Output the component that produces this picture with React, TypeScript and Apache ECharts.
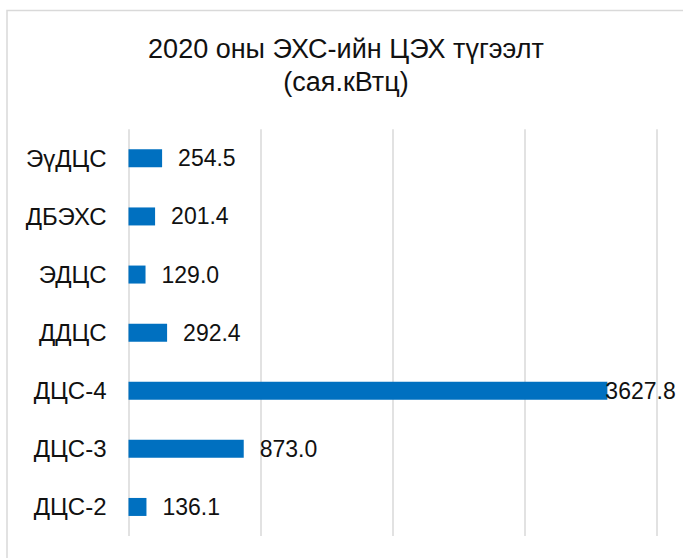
import React, { useEffect, useRef } from "react";
import * as echarts from "echarts";

const titleLines = ["2020 оны ЭХС-ийн ЦЭХ түгээлт", "(сая.кВтц)"];
const categories = ["ЭүДЦС", "ДБЭХС", "ЭДЦС", "ДДЦС", "ДЦС-4", "ДЦС-3", "ДЦС-2"];
const values = [254.5, 201.4, 129.0, 292.4, 3627.8, 873.0, 136.1];
const axisMin = 0;
const axisMax = 4000;
const axisInterval = 1000;

const FONT = "'Liberation Sans', Arial, sans-serif";

export default function App() {
  const ref = useRef<HTMLDivElement>(null);

  useEffect(() => {
    document.body.style.margin = "0";
    if (!ref.current) return;
    const chart = echarts.init(ref.current, null, { renderer: "svg" });
    const maxVal = Math.max(...values);
    chart.setOption({
      animation: false,
      backgroundColor: "#ffffff",
      title: {
        text: titleLines.join("\n"),
        left: 346,
        top: 32,
        textAlign: "center",
        padding: 0,
        textStyle: {
          fontFamily: FONT,
          fontSize: 27,
          lineHeight: 33,
          fontWeight: "normal",
          color: "#111111",
        },
      },
      graphic: [
        {
          type: "rect",
          silent: true,
          shape: { x: 7, y: 10.5, width: 1000, height: 1000 },
          style: { fill: "none", stroke: "#d9d9d9", lineWidth: 1.5 },
        },
      ],
      grid: {
        left: 128.5,
        right: 26.5,
        top: 129.3,
        bottom: 22,
        containLabel: false,
      },
      xAxis: {
        type: "value",
        min: axisMin,
        max: axisMax,
        interval: axisInterval,
        axisLabel: { show: false },
        axisLine: { show: false },
        axisTick: { show: false },
        splitLine: { show: true, lineStyle: { color: "#d9d9d9", width: 1.5 } },
      },
      yAxis: {
        type: "category",
        inverse: true,
        data: categories,
        axisLine: { show: false },
        axisTick: { show: false },
        axisLabel: {
          margin: 22,
          fontFamily: FONT,
          fontSize: 24,
          color: "#111111",
        },
      },
      series: [
        {
          type: "bar",
          barWidth: 18,
          itemStyle: { color: "#0070C0" },
          label: {
            show: true,
            position: "right",
            distance: 16,
            fontFamily: FONT,
            fontSize: 23,
            color: "#111111",
            formatter: (p: any) => Number(p.value).toFixed(1),
          },
          data: values.map((v) =>
            v === maxVal
              ? { value: v, label: { distance: -2 } }
              : { value: v }
          ),
        },
      ],
    });
    return () => chart.dispose();
  }, []);

  return <div ref={ref} style={{ width: 683, height: 558 }} />;
}
